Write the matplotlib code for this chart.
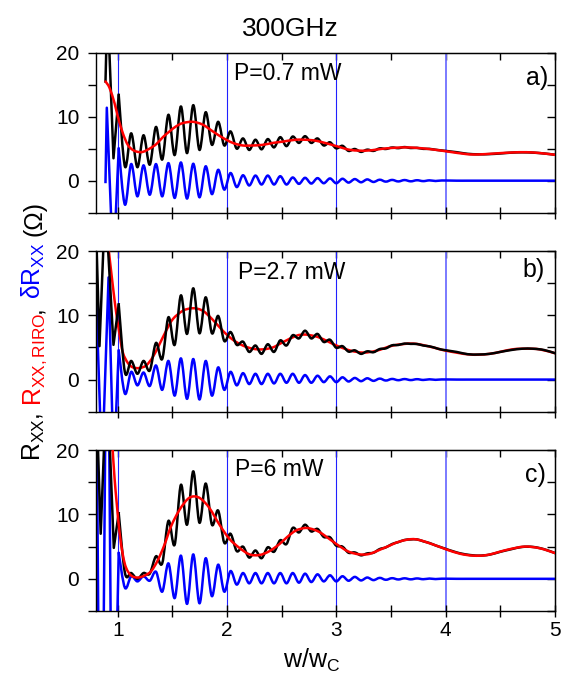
import matplotlib
matplotlib.use('Agg')
import matplotlib.pyplot as plt
from matplotlib.ticker import FixedLocator, NullFormatter
from matplotlib.path import Path
from matplotlib.patches import PathPatch

plt.rcParams['font.family'] = ['Liberation Sans', 'DejaVu Sans']
plt.rcParams['mathtext.fontset'] = 'custom'
plt.rcParams['mathtext.rm'] = 'Liberation Sans'
plt.rcParams['mathtext.it'] = 'Liberation Sans:italic'
plt.rcParams['mathtext.default'] = 'regular'

# ---------------- data ----------------
# positions of oscillation extrema (peaks / troughs), shared by black and blue curves
x_grid = [1.008, 1.065, 1.122, 1.179, 1.235, 1.292, 1.349, 1.406, 1.463, 1.520,
          1.577, 1.633, 1.690, 1.747, 1.804, 1.861, 1.918, 1.974, 2.031, 2.088,
          2.145, 2.202, 2.259, 2.315, 2.372, 2.429, 2.486, 2.543, 2.600, 2.657,
          2.713, 2.770, 2.827, 2.884, 2.941, 2.998, 3.055, 3.111, 3.168, 3.225,
          3.282, 3.339, 3.396, 3.452, 3.509, 3.566, 3.623, 3.680, 3.737, 3.794,
          3.851, 3.907, 3.964]
x_tail = [4.1, 4.2, 4.3, 4.4, 4.5, 4.6, 4.7, 4.8, 4.9, 5.0]
blue_tail = [0.0, 0.0, 0.0, 0.0, 0.0, 0.0, 0.0, 0.0, 0.0, 0.0]

# panel a) P=0.7 mW
blue_a_pre_x = [0.887, 0.899, 0.958]
blue_a_pre_y = [-0.2, 11.4, -14.0]
blue_a = [5.0, -3.75, 2.6, -2.45, 2.4, -2.2, 2.6, -2.45, 2.75, -2.7,
          2.85, -2.8, 2.65, -2.6, 2.25, -2.1, 1.7, -1.4, 1.2, -1.0,
          0.85, -0.75, 0.8, -0.6, 0.8, -0.6, 0.7, -0.6, 0.5, -0.5,
          0.45, -0.45, 0.4, -0.4, 0.35, -0.4, 0.3, -0.3, 0.25, -0.25,
          0.2, -0.2, 0.15, -0.15, 0.12, -0.12, 0.1, -0.1, 0.07, -0.07,
          0.05, -0.05, 0.03]
black_a_pre_x = [0.887, 0.905, 0.960]
black_a_pre_y = [15.5, 28.0, 3.5]
black_a = [13.4, 2.2, 7.4, 2.1, 7.1, 2.5, 8.4, 3.3, 10.3, 4.0,
           11.6, 4.3, 11.8, 4.8, 10.7, 5.6, 9.2, 5.5, 7.7, 5.0,
           6.6, 4.8, 6.4, 4.9, 6.5, 5.2, 6.8, 5.4, 6.9, 5.9,
           6.95, 5.9, 6.6, 5.5, 6.0, 5.05, 5.45, 4.65, 4.95, 4.5,
           4.85, 4.65, 5.05, 4.95, 5.18, 5.08, 5.25, 5.1, 5.13, 4.97,
           4.97, 4.83, 4.72]
black_a_tail = [4.45, 4.2, 4.12, 4.15, 4.25, 4.38, 4.43, 4.38, 4.25, 4.05]
red_a_x = [0.887, 0.924, 0.970, 1.000, 1.046, 1.091, 1.137, 1.183, 1.229, 1.290,
           1.351, 1.412, 1.473, 1.534, 1.595, 1.686, 1.777, 1.869, 1.960, 2.052,
           2.143, 2.235, 2.326, 2.418, 2.509, 2.631, 2.76, 2.85, 3.0, 3.13,
           3.28, 3.46, 3.64, 3.82, 4.0, 4.19, 4.3, 4.45, 4.6, 4.74, 4.87, 5.0]
red_a_y = [15.5, 14.5, 12.1, 10.0, 7.4, 5.6, 4.8, 4.5, 4.5, 5.0,
           5.7, 6.8, 7.7, 8.5, 9.0, 9.2, 8.75, 7.7, 6.7, 5.9,
           5.5, 5.5, 5.6, 5.9, 6.1, 6.4, 6.35, 6.1, 5.4, 4.8,
           4.7, 5.05, 5.2, 5.0, 4.6, 4.15, 4.1, 4.25, 4.4, 4.45, 4.3, 4.05]

# panel b) P=2.7 mW
blue_b_pre_x = [0.800, 0.855, 0.915, 0.962]
blue_b_pre_y = [13.7, -14.0, 15.9, -14.0]
blue_b = [4.5, -2.2, 1.2, -0.9, 1.1, -1.0, 2.2, -1.6, 2.9, -2.5,
          3.3, -3.0, 3.2, -3.1, 2.9, -2.5, 1.9, -1.6, 1.2, -0.9,
          1.0, -0.7, 0.9, -0.7, 0.9, -0.6, 0.9, -0.5, 0.9, -0.5,
          0.7, -0.5, 0.6, -0.4, 0.5, -0.4, 0.35, -0.3, 0.25, -0.25,
          0.2, -0.2, 0.15, -0.15, 0.1, -0.1, 0.08, -0.08, 0.06, -0.06,
          0.04, -0.04, 0.02]
black_b_pre_x = [0.800, 0.832, 0.885, 0.960]
black_b_pre_y = [24.0, 5.2, 28.0, 5.4]
black_b = [11.7, 1.1, 2.9, 0.9, 2.9, 1.4, 5.7, 3.2, 9.7, 5.4,
           13.1, 7.1, 14.2, 7.2, 12.8, 7.2, 9.9, 6.0, 7.4, 5.4,
           5.9, 4.3, 5.3, 4.0, 5.5, 4.3, 6.1, 5.3, 6.9, 6.4,
           7.6, 6.4, 7.1, 5.85, 6.2, 4.95, 5.2, 4.35, 4.55, 4.0,
           4.4, 4.25, 4.75, 4.85, 5.33, 5.38, 5.6, 5.55, 5.53, 5.3,
           5.17, 4.92, 4.66]
black_b_tail = [4.3, 3.95, 3.9, 4.0, 4.3, 4.6, 4.8, 4.8, 4.6, 4.1]
red_b_x = [0.916, 0.954, 0.985, 1.015, 1.046, 1.091, 1.137, 1.198, 1.259, 1.320,
           1.381, 1.442, 1.503, 1.595, 1.686, 1.777, 1.869, 1.960, 2.052, 2.143,
           2.235, 2.326, 2.418, 2.509, 2.631, 2.70, 2.76, 2.85, 3.0, 3.13,
           3.25, 3.37, 3.52, 3.7, 3.86, 4.0, 4.22, 4.4, 4.61, 4.74, 4.86, 5.0]
red_b_y = [20.2, 14.6, 10.4, 7.1, 4.2, 2.6, 1.9, 1.8, 2.2, 3.5,
           5.5, 7.6, 9.4, 10.7, 11.1, 10.7, 9.3, 7.6, 6.2, 5.3,
           4.8, 4.7, 5.0, 5.8, 6.8, 7.0, 6.9, 6.5, 5.3, 4.5,
           4.2, 4.5, 5.3, 5.6, 5.1, 4.5, 3.9, 4.0, 4.7, 4.8, 4.7, 4.1]

# panel c) P=6 mW
blue_c_pre_x = [0.800, 0.845, 0.903, 0.950]
blue_c_pre_y = [40.0, -60.0, 60.0, -40.0]
blue_c = [4.0, -1.4, 0.4, -0.4, 0.4, -0.3, 1.1, -2.0, 2.4, -3.0,
          3.6, -3.9, 3.8, -3.8, 3.2, -2.7, 2.2, -2.0, 1.2, -0.9,
          0.9, -0.7, 0.9, -0.7, 0.9, -0.7, 0.9, -0.7, 0.9, -0.6,
          0.8, -0.5, 0.7, -0.4, 0.55, -0.4, 0.4, -0.3, 0.3, -0.25,
          0.2, -0.2, 0.15, -0.15, 0.1, -0.1, 0.08, -0.08, 0.06, -0.06,
          0.04, -0.04, 0.02]
black_c_pre_x = [0.800, 0.843, 0.900, 0.963]
black_c_pre_y = [30.0, 7.0, 32.0, 4.8]
black_c = [10.2, 0.9, 0.9, 0.0, 0.9, 0.8, 3.5, 2.4, 9.0, 5.3,
           14.6, 8.4, 16.7, 8.7, 14.8, 8.4, 10.6, 5.6, 7.0, 4.3,
           5.0, 3.3, 4.4, 3.2, 4.9, 4.2, 6.0, 5.4, 7.9, 7.2,
           8.4, 7.35, 7.75, 6.5, 6.45, 5.15, 5.0, 4.05, 4.1, 3.65,
           3.95, 4.05, 4.62, 4.88, 5.4, 5.7, 6.03, 6.12, 6.12, 5.83,
           5.56, 5.19, 4.86]
black_c_tail = [4.1, 3.75, 3.6, 3.75, 4.2, 4.6, 4.95, 4.95, 4.6, 4.0]
red_c_x = [0.952, 0.970, 0.991, 1.015, 1.046, 1.076, 1.122, 1.183, 1.244, 1.305,
           1.366, 1.427, 1.488, 1.564, 1.640, 1.701, 1.762, 1.838, 1.930, 2.021,
           2.113, 2.204, 2.296, 2.387, 2.479, 2.55, 2.63, 2.72, 2.80, 2.87,
           3.0, 3.13, 3.28, 3.43, 3.58, 3.72, 3.89, 4.0, 4.13, 4.25,
           4.38, 4.56, 4.72, 4.86, 5.0]
red_c_y = [20.2, 15.6, 11.5, 7.3, 3.7, 1.7, 0.5, 0.2, 0.5, 1.2,
           2.9, 5.3, 8.2, 10.7, 12.4, 12.8, 12.4, 11.0, 8.4, 6.2,
           4.8, 3.8, 3.7, 4.3, 5.4, 6.5, 7.5, 7.9, 7.6, 7.0,
           5.4, 4.1, 3.8, 4.75, 5.8, 6.15, 5.3, 4.6, 3.9, 3.6,
           3.7, 4.5, 5.0, 4.75, 4.0]

powers = ['P=0.7 mW', 'P=2.7 mW', 'P=6 mW']
panel_tags = ['a)', 'b)', 'c)']
guide_lines = [1, 2, 3, 4]
x_major = [1, 2, 3, 4, 5]
x_minor = [1.5, 2.5, 3.5, 4.5]
y_major = [0, 10, 20]
y_minor = [-5, 5, 15]


def smooth_curve(ax, xs, ys, color, lw, zorder):
    """Draw a smooth (Catmull-Rom style Bezier) curve through the given points."""
    n = len(xs)
    verts = [(xs[0], ys[0])]
    codes = [Path.MOVETO]
    for i in range(n - 1):
        x0, y0 = (xs[i - 1], ys[i - 1]) if i > 0 else (xs[i], ys[i])
        x1, y1 = xs[i], ys[i]
        x2, y2 = xs[i + 1], ys[i + 1]
        x3, y3 = (xs[i + 2], ys[i + 2]) if i + 2 < n else (x2, y2)
        verts += [(x1 + (x2 - x0) / 6.0, y1 + (y2 - y0) / 6.0),
                  (x2 - (x3 - x1) / 6.0, y2 - (y3 - y1) / 6.0),
                  (x2, y2)]
        codes += [Path.CURVE4] * 3
    patch = PathPatch(Path(verts, codes), fill=False, edgecolor=color, lw=lw,
                      zorder=zorder, capstyle='round', joinstyle='round')
    ax.add_patch(patch)


# ---------------- figure ----------------
fig = plt.figure(figsize=(5.62, 6.93), dpi=100)
rects = [(0.1708, 0.6931, 0.8167, 0.2309),
         (0.1708, 0.4059, 0.8167, 0.2319),
         (0.1708, 0.1183, 0.8167, 0.2323)]

panels = [
    (blue_a_pre_x, blue_a_pre_y, blue_a, black_a_pre_x, black_a_pre_y, black_a, black_a_tail, red_a_x, red_a_y, False),
    (blue_b_pre_x, blue_b_pre_y, blue_b, black_b_pre_x, black_b_pre_y, black_b, black_b_tail, red_b_x, red_b_y, True),
    (blue_c_pre_x, blue_c_pre_y, blue_c, black_c_pre_x, black_c_pre_y, black_c, black_c_tail, red_c_x, red_c_y, False),
]
text_pos = [(2.06, 15.7), (2.10, 15.6), (2.07, 15.9)]
tag_pos = [(4.94, 15.0), (4.91, 16.0), (4.92, 15.1)]

BLUE = '#0000ff'
RED = '#ff0000'
LW = 1.8
for i, (bpx, bpy, bv, kpx, kpy, kv, kt, rx, ry, black_top) in enumerate(panels):
    ax = fig.add_axes(rects[i])
    for v in guide_lines:
        ax.axvline(v, color='#7070ff' if v == 4 else '#2020ff',
                   lw=1.3 if v == 4 else 0.8, zorder=1)
    zk = 4 if black_top else 3
    zr = 3 if black_top else 4
    # blue: straight spikes below x=1, smooth oscillation after
    ax.plot(bpx + [x_grid[0]], bpy + [bv[0]], color=BLUE, lw=LW, zorder=2,
            solid_joinstyle='round')
    smooth_curve(ax, x_grid + x_tail, bv + blue_tail, BLUE, LW, 2)
    # black
    ax.plot(kpx + [x_grid[0]], kpy + [kv[0]], color='black', lw=LW, zorder=zk,
            solid_joinstyle='round')
    smooth_curve(ax, x_grid + x_tail, kv + kt, 'black', LW, zk)
    # red
    smooth_curve(ax, rx, ry, RED, LW, zr)

    ax.set_xlim(0.8, 5.0)
    ax.set_ylim(-5, 20)
    ax.xaxis.set_major_locator(FixedLocator(x_major))
    ax.xaxis.set_minor_locator(FixedLocator(x_minor))
    ax.yaxis.set_major_locator(FixedLocator(y_major))
    ax.yaxis.set_minor_locator(FixedLocator(y_minor))
    ax.tick_params(axis='x', which='both', direction='inout', length=9, width=1.0,
                   labelsize=15, pad=3, labelbottom=(i == 2))
    ax.tick_params(axis='y', which='both', direction='out', length=6, width=1.0,
                   labelsize=15, pad=6)
    for s in ax.spines.values():
        s.set_linewidth(1.0)
    sx = ax.secondary_xaxis('top')
    sx.xaxis.set_major_locator(FixedLocator(x_major))
    sx.xaxis.set_minor_locator(FixedLocator(x_minor))
    sx.xaxis.set_major_formatter(NullFormatter())
    sx.tick_params(which='both', direction='in', length=5, width=1.0)
    sy = ax.secondary_yaxis('right')
    sy.yaxis.set_major_locator(FixedLocator(y_major))
    sy.yaxis.set_minor_locator(FixedLocator(y_minor))
    sy.yaxis.set_major_formatter(NullFormatter())
    sy.tick_params(which='both', direction='in', length=6, width=1.0)
    ax.text(text_pos[i][0], text_pos[i][1], powers[i], fontsize=16.5,
            ha='left', va='baseline', zorder=6)
    ax.text(tag_pos[i][0], tag_pos[i][1], panel_tags[i], fontsize=18,
            ha='right', va='baseline', zorder=6)

fig.text(0.516, 0.948, '300GHz', ha='center', va='baseline', fontsize=19)
fig.text(0.555, 0.036, 'w/w$_C$', ha='center', va='baseline', fontsize=18)

# multi-coloured y label
pieces = [('R$_{XX}$,', 'black', True), ('R$_{XX,RIRO}$', RED, False),
          (',', 'black', True), ('δR$_{XX}$', BLUE, True), ('(Ω)', 'black', False)]
fs = 17.8
fig.canvas.draw()
rend = fig.canvas.get_renderer()
space = 0.278 * fs * 100 / 72.0
objs = []
total = 0.0
for txt, col, gap in pieces:
    t = fig.text(0, 0, txt, color=col, fontsize=fs, rotation=90,
                 rotation_mode='anchor', ha='left', va='baseline')
    h = t.get_window_extent(rend).height
    objs.append((t, h, gap))
    total += h + (space if gap else 0)
total -= space if objs[-1][2] else 0
H = fig.get_figheight() * fig.dpi
center_px = H - 331.0
y = center_px - total / 2.0
xb_fig = 41.0 / 562.0
for t, h, gap in objs:
    t.set_position((xb_fig, y / H))
    y += h + (space if gap else 0)

fig.savefig('out.png', dpi=100)
